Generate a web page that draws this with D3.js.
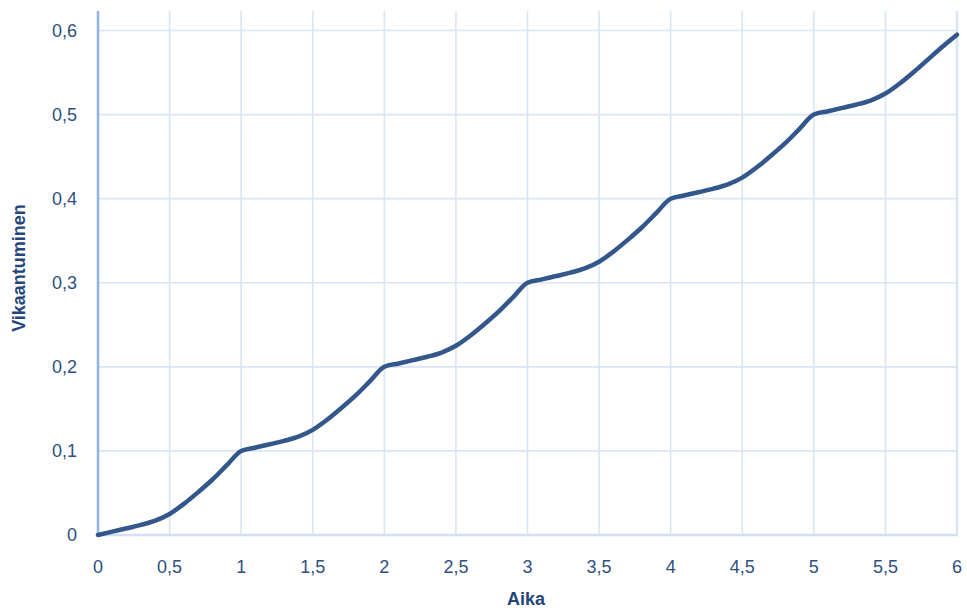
<!DOCTYPE html>
<html>
<head>
<meta charset="utf-8">
<script src="https://cdn.jsdelivr.net/npm/d3@7"></script>
<style>
  body { margin: 0; background: #fff; }
  svg { display: block; }
</style>
</head>
<body>
<svg id="chart"></svg>
<script>
// values
const aika = [
  0, 0.1, 0.2, 0.3, 0.4, 0.5, 0.6, 0.7, 0.8, 0.9,
  1, 1.1, 1.2, 1.3, 1.4, 1.5, 1.6, 1.7, 1.8, 1.9,
  2, 2.1, 2.2, 2.3, 2.4, 2.5, 2.6, 2.7, 2.8, 2.9,
  3, 3.1, 3.2, 3.3, 3.4, 3.5, 3.6, 3.7, 3.8, 3.9,
  4, 4.1, 4.2, 4.3, 4.4, 4.5, 4.6, 4.7, 4.8, 4.9,
  5, 5.1, 5.2, 5.3, 5.4, 5.5, 5.6, 5.7, 5.8, 5.9,
  6
];
const vikaantuminen = [
  0, 0.004, 0.008, 0.012, 0.017, 0.025, 0.037, 0.051, 0.066, 0.083,
  0.1, 0.104, 0.108, 0.112, 0.117, 0.125, 0.137, 0.151, 0.166, 0.183,
  0.2, 0.204, 0.208, 0.212, 0.217, 0.225, 0.237, 0.251, 0.266, 0.283,
  0.3, 0.304, 0.308, 0.312, 0.317, 0.325, 0.337, 0.351, 0.366, 0.383,
  0.4, 0.404, 0.408, 0.412, 0.417, 0.425, 0.437, 0.451, 0.466, 0.483,
  0.5, 0.504, 0.508, 0.512, 0.517, 0.525, 0.537, 0.551, 0.566, 0.581,
  0.595
];
const xTicks = [0, 0.5, 1, 1.5, 2, 2.5, 3, 3.5, 4, 4.5, 5, 5.5, 6];
const yTicks = [0, 0.1, 0.2, 0.3, 0.4, 0.5, 0.6];
const xTitle = "Aika";
const yTitle = "Vikaantuminen";

const width = 967;
const height = 611;
const plotTop = 11;

const svg = d3.select("#chart")
  .attr("width", width)
  .attr("height", height)
  .attr("font-family", "'Liberation Sans', Arial, sans-serif");

const xScale = d3.scaleLinear([0, 6], [98, 957]);
const yScale = d3.scaleLinear([0, 0.6], [535, 30.5]);

const fmt = d => String(d).replace(".", ",");

// gridlines
svg.append("g")
  .selectAll("line")
  .data(xTicks.slice(1))
  .join("line")
  .attr("x1", d => xScale(d))
  .attr("x2", d => xScale(d))
  .attr("y1", plotTop)
  .attr("y2", yScale(0))
  .attr("stroke", "#d9e5f4")
  .attr("stroke-width", d => d === 6 ? 2.5 : 1.6);

svg.append("g")
  .selectAll("line")
  .data(yTicks.slice(1))
  .join("line")
  .attr("x1", xScale(0))
  .attr("x2", xScale(6))
  .attr("y1", d => yScale(d))
  .attr("y2", d => yScale(d))
  .attr("stroke", "#d9e5f4")
  .attr("stroke-width", 1.6);

// x axis line
svg.append("line")
  .attr("x1", xScale(0))
  .attr("x2", xScale(6) + 1)
  .attr("y1", yScale(0))
  .attr("y2", yScale(0))
  .attr("stroke", "#d2e0f2")
  .attr("stroke-width", 2.5);

// y axis line
svg.append("line")
  .attr("x1", xScale(0))
  .attr("x2", xScale(0))
  .attr("y1", plotTop)
  .attr("y2", yScale(0) + 1)
  .attr("stroke", "#8fb4e3")
  .attr("stroke-width", 2.5);

// tick labels
svg.append("g")
  .selectAll("text")
  .data(xTicks)
  .join("text")
  .attr("x", d => xScale(d))
  .attr("y", 573)
  .attr("text-anchor", "middle")
  .attr("font-size", 18)
  .attr("fill", "#2f4f7f")
  .text(fmt);

svg.append("g")
  .selectAll("text")
  .data(yTicks)
  .join("text")
  .attr("x", 77)
  .attr("y", d => yScale(d) + 6)
  .attr("text-anchor", "end")
  .attr("font-size", 18)
  .attr("fill", "#2f4f7f")
  .text(fmt);

// axis titles
svg.append("text")
  .attr("x", 526)
  .attr("y", 605)
  .attr("text-anchor", "middle")
  .attr("font-size", 18)
  .attr("font-weight", "bold")
  .attr("fill", "#24457a")
  .text(xTitle);

svg.append("text")
  .attr("transform", "translate(25,268) rotate(-90)")
  .attr("text-anchor", "middle")
  .attr("font-size", 18)
  .attr("font-weight", "bold")
  .attr("fill", "#24457a")
  .text(yTitle);

// series line
const points = aika.map((a, i) => ({x: a, y: vikaantuminen[i]}));

svg.append("path")
  .datum(points)
  .attr("fill", "none")
  .attr("stroke", "#33578a")
  .attr("stroke-width", 4.5)
  .attr("stroke-linecap", "round")
  .attr("stroke-linejoin", "round")
  .attr("d", d3.line()
    .x(d => xScale(d.x))
    .y(d => yScale(d.y))
    .curve(d3.curveMonotoneX));
</script>
</body>
</html>
